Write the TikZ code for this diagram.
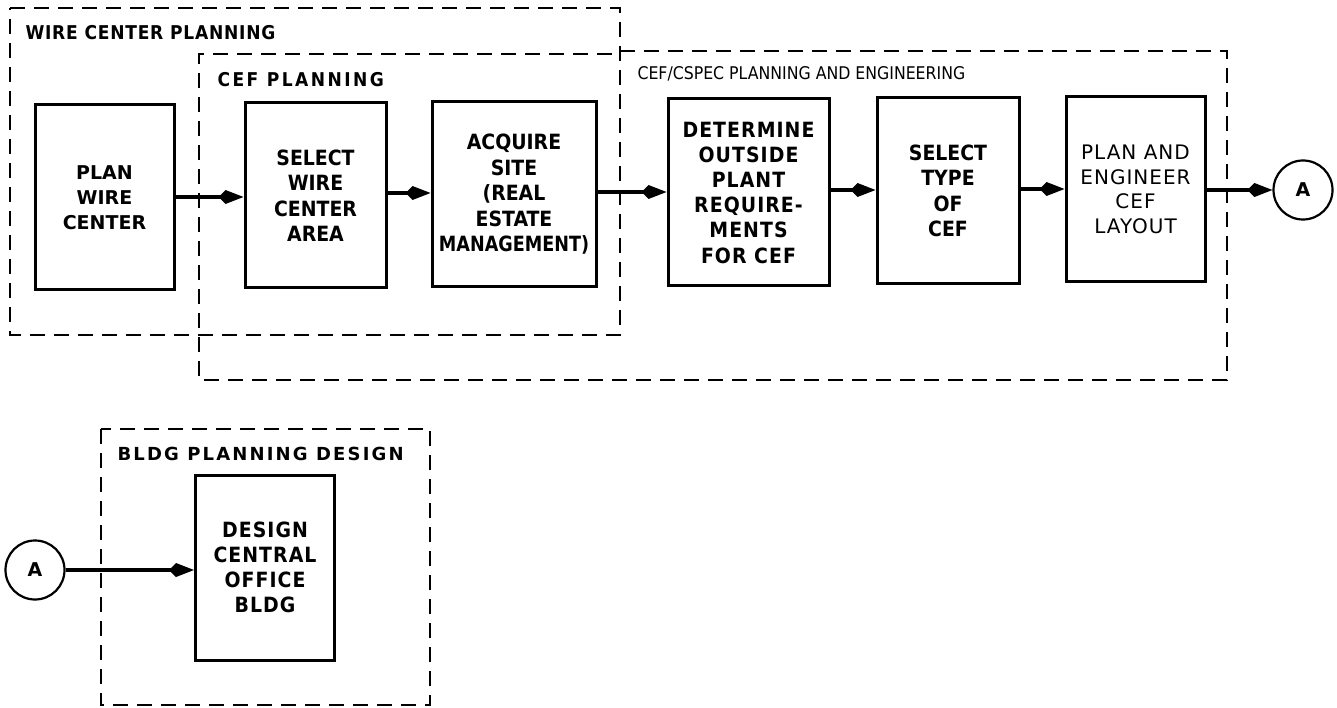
\documentclass[tikz,border=0pt]{standalone}
\usepackage{fontspec}
\setmainfont{DejaVu Sans}
\newfontfamily\condf{DejaVu Sans Condensed}
\newfontfamily\condsp[LetterSpace=5]{DejaVu Sans Condensed}
\newfontfamily\spacedf[LetterSpace=5]{DejaVu Sans}
\newfontfamily\ttlA[LetterSpace=4]{DejaVu Sans Condensed}
\newfontfamily\ttlB[LetterSpace=13]{DejaVu Sans Condensed}
\newfontfamily\ttlC[LetterSpace=12]{DejaVu Sans}
\usetikzlibrary{arrows.meta}
\begin{document}
\begin{tikzpicture}[x=1pt,y=-1pt,
  box/.style={draw, line width=3pt, inner sep=0pt, align=center},
  grp/.style={draw, line width=2.8pt, dash pattern=on 15pt off 9pt},
  lbl/.style={font=\bfseries\fontsize{19}{25}\selectfont},
  lblc/.style={font=\condf\bfseries\fontsize{21}{25.5}\selectfont},
  ttl/.style={anchor=west},
  flow/.style={line width=3.5pt, -{Kite[length=25pt,width=14pt,inset=7pt]}},
  conn/.style={draw, circle, line width=2.2pt, minimum size=59pt, inner sep=0pt, font=\bfseries\fontsize{19}{19}\selectfont}]
\useasboundingbox (0,0) rectangle (1337,708);

% group outlines
\draw[grp] (10,8) -- (620,8) -- (620,335) -- (10,335) -- cycle;
\draw[grp] (620,51) -- (1227,51) -- (1227,380) -- (199,380) -- (199,54) -- (620,54);
\draw[grp] (101,429) rectangle (430,705);

\node[ttl, font=\ttlA\bfseries\fontsize{19}{22}\selectfont] (t1) at (22,33) {WIRE CENTER PLANNING};
\node[ttl, font=\ttlB\bfseries\fontsize{19}{22}\selectfont] (t2) at (214,80) {CEF PLANNING};
\node[ttl, font=\condf\fontsize{17.5}{20}\selectfont] (t3) at (634,74) {CEF/CSPEC PLANNING AND ENGINEERING};
\node[ttl, font=\ttlC\bfseries\fontsize{18}{22}\selectfont] (t4) at (114,454) {BLDG PLANNING DESIGN};

% boxes
\node[box, lbl, minimum width=139pt, minimum height=185pt] (pwc) at (104.5,197.5) {PLAN\\WIRE\\CENTER};
\node[box, lblc, minimum width=141pt, minimum height=185pt] (swc) at (315.5,195.5) {SELECT\\WIRE\\CENTER\\AREA};
\node[box, lblc, minimum width=164pt, minimum height=185pt] (acq) at (514,194.5) {ACQUIRE\\SITE\\(REAL\\ESTATE\\\scalebox{0.93}[1]{MANAGEMENT)}};
\node[box, minimum width=161pt, minimum height=187pt, font=\condsp\bfseries\fontsize{21}{25.2}\selectfont] (det) at (748.5,192.5) {DETERMINE\\OUTSIDE\\PLANT\\REQUIRE-\\MENTS\\FOR CEF};
\node[box, lblc, minimum width=142pt, minimum height=186pt] (typ) at (948,191) {SELECT\\TYPE\\OF\\CEF};
\node[box, minimum width=139pt, minimum height=185pt, font=\spacedf\fontsize{20}{24.5}\selectfont] (eng) at (1135.5,189.5) {PLAN AND\\ENGINEER\\CEF\\LAYOUT};
\node[box, minimum width=139pt, minimum height=185pt, font=\condsp\bfseries\fontsize{21}{25}\selectfont] (bld) at (265,567.5) {DESIGN\\CENTRAL\\OFFICE\\BLDG};

% connectors
\node[conn] (a1) at (1303,190) {A};
\node[conn] (a2) at (35,570) {A};

\draw[flow] (pwc.east |- 0,197) -- (swc.west |- 0,197);
\draw[flow] (swc.east |- 0,193) -- (acq.west |- 0,193);
\draw[flow] (acq.east |- 0,192) -- (det.west |- 0,192);
\draw[flow] (det.east |- 0,190) -- (typ.west |- 0,190);
\draw[flow] (typ.east |- 0,189) -- (eng.west |- 0,189);
\draw[flow] (eng.east |- a1.west) -- (a1.west);
\draw[flow] (a2.east) -- (bld.west |- a2.east);
\end{tikzpicture}
\end{document}
